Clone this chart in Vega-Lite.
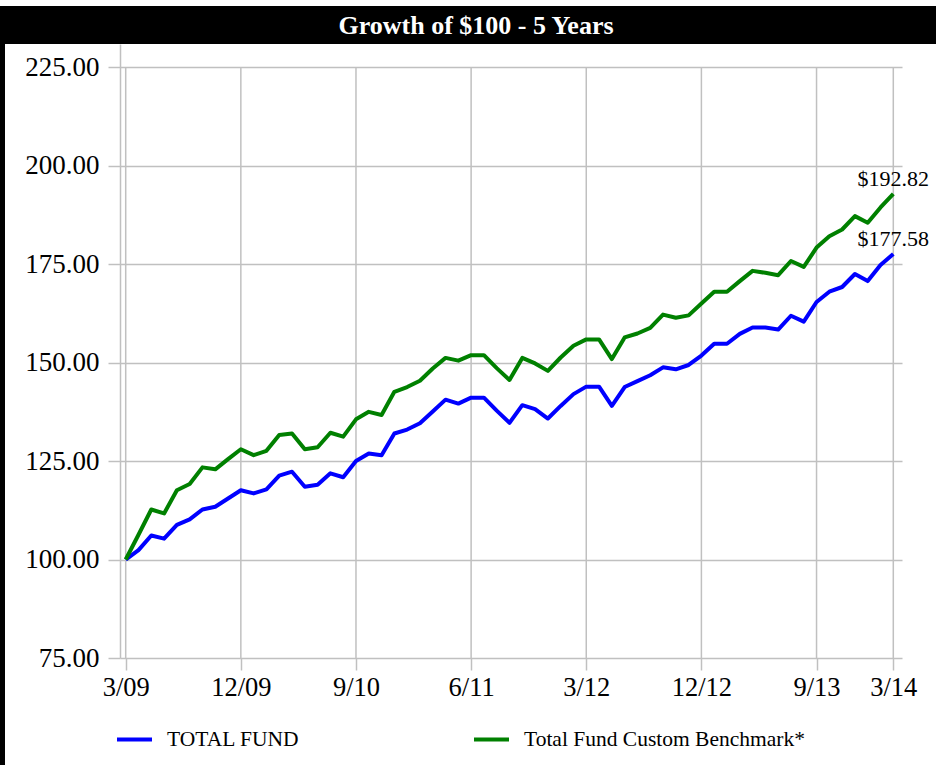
{
  "$schema": "https://vega.github.io/schema/vega-lite/v6.json",
  "padding": {"top": 6, "left": 0, "right": 0, "bottom": 0},
  "background": "white",
  "config": {
    "font": "Liberation Serif",
    "view": {"stroke": null},
    "legend": {"labelFont": "Liberation Serif", "labelFontSize": 21.5, "labelColor": "black"},
    "axis": {"labelFont": "Liberation Serif", "labelFontSize": 26, "labelColor": "black"}
  },
  "datasets": {
    "growth": [
      {"month":0,"series":"TOTAL FUND","value":100.0},
      {"month":1,"series":"TOTAL FUND","value":102.4},
      {"month":2,"series":"TOTAL FUND","value":106.1},
      {"month":3,"series":"TOTAL FUND","value":105.3},
      {"month":4,"series":"TOTAL FUND","value":108.8},
      {"month":5,"series":"TOTAL FUND","value":110.2},
      {"month":6,"series":"TOTAL FUND","value":112.7},
      {"month":7,"series":"TOTAL FUND","value":113.4},
      {"month":8,"series":"TOTAL FUND","value":115.5},
      {"month":9,"series":"TOTAL FUND","value":117.6},
      {"month":10,"series":"TOTAL FUND","value":116.8},
      {"month":11,"series":"TOTAL FUND","value":117.8},
      {"month":12,"series":"TOTAL FUND","value":121.3},
      {"month":13,"series":"TOTAL FUND","value":122.3},
      {"month":14,"series":"TOTAL FUND","value":118.5},
      {"month":15,"series":"TOTAL FUND","value":119.0},
      {"month":16,"series":"TOTAL FUND","value":121.9},
      {"month":17,"series":"TOTAL FUND","value":120.9},
      {"month":18,"series":"TOTAL FUND","value":125.0},
      {"month":19,"series":"TOTAL FUND","value":126.9},
      {"month":20,"series":"TOTAL FUND","value":126.5},
      {"month":21,"series":"TOTAL FUND","value":132.0},
      {"month":22,"series":"TOTAL FUND","value":133.0},
      {"month":23,"series":"TOTAL FUND","value":134.6},
      {"month":24,"series":"TOTAL FUND","value":137.6},
      {"month":25,"series":"TOTAL FUND","value":140.6},
      {"month":26,"series":"TOTAL FUND","value":139.6},
      {"month":27,"series":"TOTAL FUND","value":141.1},
      {"month":28,"series":"TOTAL FUND","value":141.1},
      {"month":29,"series":"TOTAL FUND","value":137.8},
      {"month":30,"series":"TOTAL FUND","value":134.7},
      {"month":31,"series":"TOTAL FUND","value":139.2},
      {"month":32,"series":"TOTAL FUND","value":138.2},
      {"month":33,"series":"TOTAL FUND","value":135.8},
      {"month":34,"series":"TOTAL FUND","value":139.0},
      {"month":35,"series":"TOTAL FUND","value":142.0},
      {"month":36,"series":"TOTAL FUND","value":143.9},
      {"month":37,"series":"TOTAL FUND","value":143.9},
      {"month":38,"series":"TOTAL FUND","value":139.0},
      {"month":39,"series":"TOTAL FUND","value":143.8},
      {"month":40,"series":"TOTAL FUND","value":145.3},
      {"month":41,"series":"TOTAL FUND","value":146.8},
      {"month":42,"series":"TOTAL FUND","value":148.8},
      {"month":43,"series":"TOTAL FUND","value":148.3},
      {"month":44,"series":"TOTAL FUND","value":149.4},
      {"month":45,"series":"TOTAL FUND","value":151.8},
      {"month":46,"series":"TOTAL FUND","value":154.8},
      {"month":47,"series":"TOTAL FUND","value":154.8},
      {"month":48,"series":"TOTAL FUND","value":157.3},
      {"month":49,"series":"TOTAL FUND","value":158.9},
      {"month":50,"series":"TOTAL FUND","value":158.9},
      {"month":51,"series":"TOTAL FUND","value":158.4},
      {"month":52,"series":"TOTAL FUND","value":161.9},
      {"month":53,"series":"TOTAL FUND","value":160.4},
      {"month":54,"series":"TOTAL FUND","value":165.4},
      {"month":55,"series":"TOTAL FUND","value":168.0},
      {"month":56,"series":"TOTAL FUND","value":169.2},
      {"month":57,"series":"TOTAL FUND","value":172.5},
      {"month":58,"series":"TOTAL FUND","value":170.7},
      {"month":59,"series":"TOTAL FUND","value":174.8},
      {"month":60,"series":"TOTAL FUND","value":177.58},
      {"month":0,"series":"Total Fund Custom Benchmark*","value":100.0},
      {"month":1,"series":"Total Fund Custom Benchmark*","value":106.3},
      {"month":2,"series":"Total Fund Custom Benchmark*","value":112.7},
      {"month":3,"series":"Total Fund Custom Benchmark*","value":111.7},
      {"month":4,"series":"Total Fund Custom Benchmark*","value":117.6},
      {"month":5,"series":"Total Fund Custom Benchmark*","value":119.2},
      {"month":6,"series":"Total Fund Custom Benchmark*","value":123.4},
      {"month":7,"series":"Total Fund Custom Benchmark*","value":122.9},
      {"month":8,"series":"Total Fund Custom Benchmark*","value":125.5},
      {"month":9,"series":"Total Fund Custom Benchmark*","value":128.0},
      {"month":10,"series":"Total Fund Custom Benchmark*","value":126.5},
      {"month":11,"series":"Total Fund Custom Benchmark*","value":127.6},
      {"month":12,"series":"Total Fund Custom Benchmark*","value":131.6},
      {"month":13,"series":"Total Fund Custom Benchmark*","value":132.0},
      {"month":14,"series":"Total Fund Custom Benchmark*","value":128.0},
      {"month":15,"series":"Total Fund Custom Benchmark*","value":128.5},
      {"month":16,"series":"Total Fund Custom Benchmark*","value":132.2},
      {"month":17,"series":"Total Fund Custom Benchmark*","value":131.2},
      {"month":18,"series":"Total Fund Custom Benchmark*","value":135.6},
      {"month":19,"series":"Total Fund Custom Benchmark*","value":137.5},
      {"month":20,"series":"Total Fund Custom Benchmark*","value":136.7},
      {"month":21,"series":"Total Fund Custom Benchmark*","value":142.6},
      {"month":22,"series":"Total Fund Custom Benchmark*","value":143.8},
      {"month":23,"series":"Total Fund Custom Benchmark*","value":145.4},
      {"month":24,"series":"Total Fund Custom Benchmark*","value":148.5},
      {"month":25,"series":"Total Fund Custom Benchmark*","value":151.2},
      {"month":26,"series":"Total Fund Custom Benchmark*","value":150.5},
      {"month":27,"series":"Total Fund Custom Benchmark*","value":151.9},
      {"month":28,"series":"Total Fund Custom Benchmark*","value":151.9},
      {"month":29,"series":"Total Fund Custom Benchmark*","value":148.6},
      {"month":30,"series":"Total Fund Custom Benchmark*","value":145.6},
      {"month":31,"series":"Total Fund Custom Benchmark*","value":151.2},
      {"month":32,"series":"Total Fund Custom Benchmark*","value":149.8},
      {"month":33,"series":"Total Fund Custom Benchmark*","value":147.9},
      {"month":34,"series":"Total Fund Custom Benchmark*","value":151.3},
      {"month":35,"series":"Total Fund Custom Benchmark*","value":154.3},
      {"month":36,"series":"Total Fund Custom Benchmark*","value":155.9},
      {"month":37,"series":"Total Fund Custom Benchmark*","value":155.9},
      {"month":38,"series":"Total Fund Custom Benchmark*","value":150.9},
      {"month":39,"series":"Total Fund Custom Benchmark*","value":156.4},
      {"month":40,"series":"Total Fund Custom Benchmark*","value":157.4},
      {"month":41,"series":"Total Fund Custom Benchmark*","value":158.8},
      {"month":42,"series":"Total Fund Custom Benchmark*","value":162.2},
      {"month":43,"series":"Total Fund Custom Benchmark*","value":161.4},
      {"month":44,"series":"Total Fund Custom Benchmark*","value":162.0},
      {"month":45,"series":"Total Fund Custom Benchmark*","value":165.0},
      {"month":46,"series":"Total Fund Custom Benchmark*","value":168.0},
      {"month":47,"series":"Total Fund Custom Benchmark*","value":168.0},
      {"month":48,"series":"Total Fund Custom Benchmark*","value":170.7},
      {"month":49,"series":"Total Fund Custom Benchmark*","value":173.3},
      {"month":50,"series":"Total Fund Custom Benchmark*","value":172.8},
      {"month":51,"series":"Total Fund Custom Benchmark*","value":172.2},
      {"month":52,"series":"Total Fund Custom Benchmark*","value":175.8},
      {"month":53,"series":"Total Fund Custom Benchmark*","value":174.3},
      {"month":54,"series":"Total Fund Custom Benchmark*","value":179.2},
      {"month":55,"series":"Total Fund Custom Benchmark*","value":182.1},
      {"month":56,"series":"Total Fund Custom Benchmark*","value":183.8},
      {"month":57,"series":"Total Fund Custom Benchmark*","value":187.2},
      {"month":58,"series":"Total Fund Custom Benchmark*","value":185.5},
      {"month":59,"series":"Total Fund Custom Benchmark*","value":189.4},
      {"month":60,"series":"Total Fund Custom Benchmark*","value":192.82}
    ]
  },
  "bounds": "flush",
  "spacing": 0,
  "vconcat": [
    {
      "width": 936,
      "height": 38,
      "view": {"fill": "black", "stroke": null},
      "data": {"values": [{"t": "Growth of $100 - 5 Years"}]},
      "mark": {"type": "text", "font": "Liberation Serif", "fontWeight": "bold", "fontSize": 26, "color": "white", "align": "center", "baseline": "middle", "dx": 8, "dy": 1},
      "encoding": {"text": {"field": "t"}}
    },
    {
      "bounds": "flush",
      "spacing": 115,
      "hconcat": [
        {
          "width": 5,
          "height": 721,
          "view": {"fill": "black", "stroke": null},
          "data": {"values": [{"t": ""}]},
          "mark": {"type": "text"},
          "encoding": {"text": {"field": "t"}}
        },
        {
          "width": 782,
          "height": 614,
          "data": {"name": "growth"},
          "layer": [
            {
              "data": {"values": [{"m": 0}, {"m": 9}, {"m": 18}, {"m": 27}, {"m": 36}, {"m": 45}, {"m": 54}, {"m": 60}]},
              "mark": {"type": "rule", "color": "#c0c0c0", "strokeWidth": 1.5},
              "encoding": {
                "x": {
                  "field": "m", "type": "quantitative",
                  "scale": {"domain": [-0.446, 60.68], "nice": false, "zero": false},
                  "axis": {
                    "title": null,
                    "values": [0, 9, 18, 27, 36, 45, 54, 60],
                    "labelExpr": "datum.value == 0 ? '3/09' : datum.value == 9 ? '12/09' : datum.value == 18 ? '9/10' : datum.value == 27 ? '6/11' : datum.value == 36 ? '3/12' : datum.value == 45 ? '12/12' : datum.value == 54 ? '9/13' : '3/14'",
                    "grid": false,
                    "domain": false,
                    "tickColor": "#c0c0c0",
                    "tickWidth": 1.5,
                    "tickSize": 12,
                    "labelFont": "Liberation Serif",
                    "labelFontSize": 26.5,
                    "labelColor": "black",
                    "labelPadding": 4,
                    "labelFlush": false,
                    "labelOverlap": false
                  }
                },
                "y": {
                  "datum": 75, "type": "quantitative",
                  "scale": {"domain": [75, 230.9], "nice": false, "zero": false},
                  "axis": {
                    "title": null,
                    "values": [75, 100, 125, 150, 175, 200, 225],
                    "format": ".2f",
                    "grid": true,
                    "gridColor": "#c0c0c0",
                    "gridWidth": 1.5,
                    "domain": true,
                    "domainColor": "#c0c0c0",
                    "domainWidth": 1.5,
                    "tickColor": "#c0c0c0",
                    "tickWidth": 1.5,
                    "tickSize": 12,
                    "labelFont": "Liberation Serif",
                    "labelFontSize": 27,
                    "labelColor": "black",
                    "labelPadding": 9,
                    "labelFlush": false,
                    "labelOverlap": false
                  }
                },
                "y2": {"datum": 225}
              }
            },
            {
              "mark": {"type": "line", "strokeWidth": 4, "strokeJoin": "round"},
              "encoding": {
                "x": {"field": "month", "type": "quantitative", "title": null},
                "y": {"field": "value", "type": "quantitative", "title": null},
                "color": {
                  "field": "series", "type": "nominal",
                  "scale": {"domain": ["TOTAL FUND", "Total Fund Custom Benchmark*"], "range": ["#0000ff", "#008000"]},
                  "legend": {
                    "title": null,
                    "orient": "none",
                    "legendX": 115,
                    "legendY": 714,
                    "direction": "horizontal",
                    "columns": 2,
                    "gridAlign": "each",
                    "columnPadding": 166,
                    "symbolType": "stroke",
                    "symbolSize": 1225,
                    "symbolStrokeWidth": 4,
                    "labelFont": "Liberation Serif",
                    "labelFontSize": 21.5,
                    "labelColor": "black",
                    "labelOffset": 13,
                    "labelLimit": 400
                  }
                }
              }
            },
            {
              "transform": [{"filter": "datum.month == 60"}],
              "mark": {"type": "text", "font": "Liberation Serif", "fontSize": 22, "color": "black", "align": "center", "baseline": "alphabetic", "dy": -8},
              "encoding": {
                "x": {"field": "month", "type": "quantitative", "title": null},
                "y": {"field": "value", "type": "quantitative", "title": null},
                "text": {"field": "value", "type": "quantitative", "format": "$.2f"}
              }
            }
          ]
        }
      ]
    }
  ]
}
